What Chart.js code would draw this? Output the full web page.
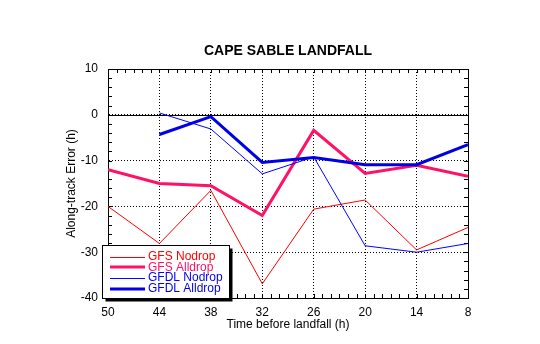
<!DOCTYPE html>
<html lang="en">

<head>
    <meta charset="UTF-8" />
    <title>Cape Sable Landfall</title>
    <script src="https://cdn.jsdelivr.net/npm/chart.js"></script>
    <style>
        body { margin: 0; background: #fff; }
        #wrap { width: 540px; height: 344px; }
    </style>
</head>

<body>
    <div id="wrap"><canvas id="errorChart" width="540" height="344"></canvas></div>

    <script>
        // hours before landfall, plotted right-to-left
        const hours = [50, 44, 38, 32, 26, 20, 14, 8];
        const yTicks = [10, 0, -10, -20, -30, -40];

        const gfsNodrop = [-20.0, -28.1, -16.5, -36.9, -20.6, -18.6, -29.5, -24.6];
        const gfsAlldrop = [-12.0, -15.0, -15.5, -22.0, -3.4, -12.8, -11.0, -13.4];
        const gfdlNodrop = [null, 0.4, -3.1, -12.9, -9.2, -28.6, -30.0, -28.1];
        const gfdlAlldrop = [null, -4.3, -0.4, -10.4, -9.3, -10.9, -10.9, -6.5];

        const FONT = '"Liberation Sans", Arial, Helvetica, sans-serif';

        const series = [
            { label: 'GFS Nodrop', values: gfsNodrop, color: '#ff0000', width: 1 },
            { label: 'GFS Alldrop', values: gfsAlldrop, color: '#ff1166', width: 3 },
            { label: 'GFDL Nodrop', values: gfdlNodrop, color: '#0000ff', width: 1 },
            { label: 'GFDL Alldrop', values: gfdlAlldrop, color: '#0000e6', width: 3 },
        ];

        function toPoints(values) {
            return hours.map((h, i) => ({ x: h, y: values[i] })).filter(p => p.y !== null);
        }

        // frame, zero line, minor ticks, titles and boxed legend
        const decorations = {
            id: 'decorations',
            beforeDatasetsDraw(chart) {
                const { ctx, chartArea: a, scales: { x, y } } = chart;
                ctx.save();
                ctx.strokeStyle = '#000';
                ctx.lineWidth = 1;
                ctx.beginPath();
                const y0 = Math.round(y.getPixelForValue(0)) + 0.5;
                ctx.moveTo(a.left, y0);
                ctx.lineTo(a.right, y0);
                for (let h = 8; h <= 50; h++) {
                    const px = Math.round(x.getPixelForValue(h)) + 0.5;
                    ctx.moveTo(px, a.top);
                    ctx.lineTo(px, a.top + 4);
                    ctx.moveTo(px, a.bottom);
                    ctx.lineTo(px, a.bottom - 4);
                }
                for (let v = -40; v <= 10; v += 2) {
                    const py = Math.round(y.getPixelForValue(v)) + 0.5;
                    ctx.moveTo(a.left, py);
                    ctx.lineTo(a.left + 4, py);
                    ctx.moveTo(a.right, py);
                    ctx.lineTo(a.right - 4, py);
                }
                ctx.stroke();
                ctx.strokeRect(Math.round(a.left) + 0.5, Math.round(a.top) + 0.5,
                    Math.round(a.right - a.left), Math.round(a.bottom - a.top));
                ctx.restore();
            },
            afterDraw(chart) {
                const { ctx, chartArea: a } = chart;
                ctx.save();
                ctx.fillStyle = '#000';
                ctx.textAlign = 'center';
                ctx.textBaseline = 'middle';
                ctx.font = 'bold 14px ' + FONT;
                ctx.fillText('CAPE SABLE LANDFALL', (a.left + a.right) / 2, 51);
                ctx.font = '12px ' + FONT;
                ctx.fillText('Time before landfall (h)', (a.left + a.right) / 2, 325);
                ctx.save();
                ctx.translate(72, (a.top + a.bottom) / 2);
                ctx.rotate(-Math.PI / 2);
                ctx.fillText('Along-track Error (h)', 0, 0);
                ctx.restore();

                // legend box with drop shadow
                const bx = 102.5, by = 245.5, bw = 127, bh = 53;
                ctx.fillStyle = '#000';
                ctx.fillRect(bx + 3, by + 3, bw, bh);
                ctx.fillStyle = '#fff';
                ctx.fillRect(bx, by, bw, bh);
                ctx.strokeStyle = '#000';
                ctx.lineWidth = 1;
                ctx.strokeRect(bx, by, bw, bh);
                ctx.textAlign = 'left';
                series.forEach((s, i) => {
                    const ry = 256.5 + i * 10.8;
                    ctx.strokeStyle = s.color;
                    ctx.lineWidth = s.width;
                    ctx.beginPath();
                    ctx.moveTo(110, Math.round(ry) + (s.width === 1 ? 0.5 : 0));
                    ctx.lineTo(145, Math.round(ry) + (s.width === 1 ? 0.5 : 0));
                    ctx.stroke();
                    ctx.fillStyle = s.color;
                    ctx.fillText(s.label, 148, ry);
                });
                ctx.restore();
            },
        };

        const ctx = document.getElementById('errorChart').getContext('2d');
        const chart = new Chart(ctx, {
            type: 'line',
            data: {
                datasets: series.map((s, i) => ({
                    label: s.label,
                    data: toPoints(s.values),
                    borderColor: s.color,
                    borderWidth: s.width,
                    pointRadius: 0,
                    tension: 0,
                    fill: false,
                    order: series.length - i,
                })),
            },
            options: {
                responsive: false,
                animation: false,
                events: [],
                layout: { padding: { top: 69, right: 72, left: 0, bottom: 0 } },
                plugins: {
                    legend: { display: false },
                    title: { display: false },
                    tooltip: { enabled: false },
                },
                scales: {
                    x: {
                        type: 'linear',
                        reverse: true,
                        min: 8,
                        max: 50,
                        afterBuildTicks: s => { s.ticks = hours.map(v => ({ value: v })); },
                        afterFit: s => { s.height = 46; },
                        grid: { color: '#000', lineWidth: 1, drawTicks: false },
                        border: { display: true, color: '#000', dash: [1, 2] },
                        ticks: { color: '#000', padding: 7, maxRotation: 0, font: { family: FONT, size: 12 } },
                    },
                    y: {
                        min: -40,
                        max: 10,
                        afterBuildTicks: s => { s.ticks = yTicks.map(v => ({ value: v })); },
                        afterFit: s => { s.width = 108; },
                        grid: { color: '#000', lineWidth: 1, drawTicks: false },
                        border: { display: true, color: '#000', dash: [1, 2] },
                        ticks: { color: '#000', padding: 10, font: { family: FONT, size: 12 } },
                    },
                },
            },
            plugins: [decorations],
        });
    </script>
</body>

</html>
